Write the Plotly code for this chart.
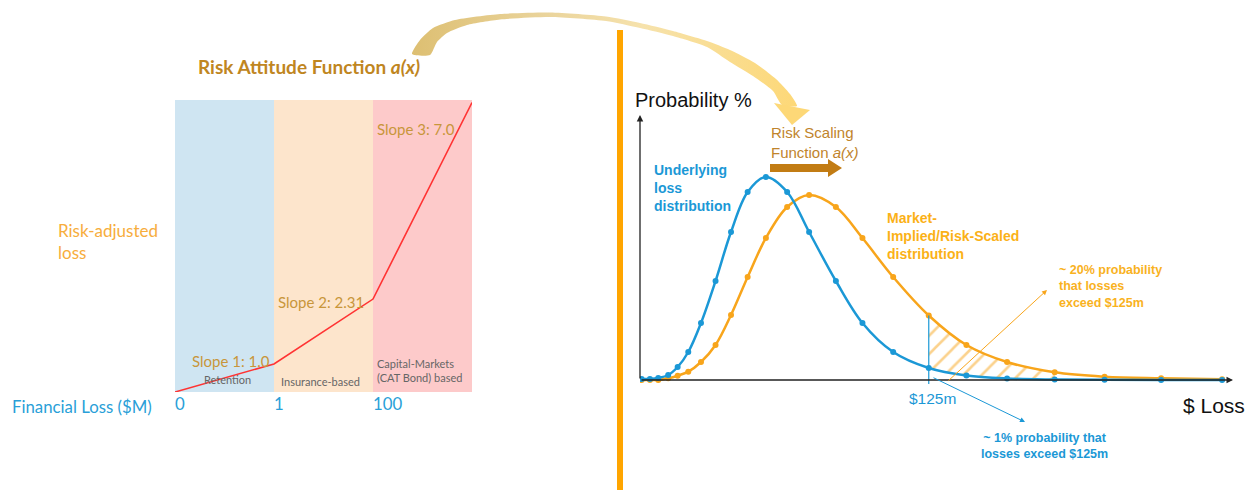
import numpy as np
import plotly.graph_objects as go

W, H = 1252, 490

# ---------------- Risk attitude function (left panel) ----------------
tier_names = ["Retention", "Insurance-based", "Capital-Markets<br>(CAT Bond) based"]
tier_ticks = ["0", "1", "100"]            # financial loss ($M) where each tier starts
tier_slopes = [1.0, 2.31, 7.0]
tier_colors = ["#cfe5f2", "#fde5cc", "#fdcaca"]

# ---------------- Loss distributions (right panel) ----------------
loss_m = [0.7, 4.3, 7.9, 12.2, 16.3, 20.9, 26.4, 32.7, 39.4, 46.6, 54.5, 63.7,
          73.2, 84.8, 96.3, 109.6, 125.0, 141.3, 158.9, 179.5, 201.1, 225.6, 252.0]
underlying_pct = [0.01, 0.01, 0.02, 0.05, 0.13, 0.28, 0.57, 0.99, 1.48, 1.88, 2.03, 1.88,
                  1.48, 0.99, 0.57, 0.28, 0.12, 0.045, 0.015, 0.005, 0.002, 0.001, 0.0]
scaled_pct = [0.0, 0.0, 0.0, 0.017, 0.043, 0.083, 0.18, 0.35, 0.65, 1.03, 1.42, 1.73,
              1.85, 1.73, 1.42, 1.03, 0.645, 0.35, 0.18, 0.077, 0.033, 0.017, 0.007]
threshold_m = 125.0
hatch_end_m = 179.5

BLUE = "#1b98d6"
ORANGE = "#f8a51b"
GOLD = "#c8963a"
SANS = "Liberation Sans, Arial, sans-serif"
CAL = "Lato, Carlito, sans-serif"


def px(x):
    return x / W


def py(y):
    return 1 - y / H


def fmt_slope(v):
    s = f"{v:.2f}".rstrip("0")
    return s + "0" if s.endswith(".") else s


fig = go.Figure()

# ---- left panel: piecewise-linear risk attitude curve ----
n_tiers = len(tier_slopes)
tier_edges = np.arange(n_tiers + 1)                 # each tier drawn with unit width
risk_adj = np.concatenate([[0.0], np.cumsum(np.array(tier_slopes) * np.diff(tier_edges))])

fig.add_trace(go.Scatter(x=tier_edges, y=risk_adj, mode="lines",
                         line=dict(color="#ff3333", width=1.6),
                         xaxis="x", yaxis="y", hoverinfo="skip"))

for i in range(n_tiers):
    fig.add_shape(type="rect", xref="x", yref="y", x0=tier_edges[i], x1=tier_edges[i + 1],
                  y0=0, y1=10.4, fillcolor=tier_colors[i], line_width=0, layer="below")

slope_pos = [(0.57, 1.1), (1.47, 3.2), (2.43, 9.37)]
for i, (sx, sy) in enumerate(slope_pos):
    fig.add_annotation(xref="x", yref="y", x=sx, y=sy, showarrow=False,
                       text=f"Slope {i + 1}: {fmt_slope(tier_slopes[i])}",
                       font=dict(family=CAL, size=15, color=GOLD))

fig.add_annotation(xref="x", yref="y", x=0.53, y=0.46, text=tier_names[0], showarrow=False,
                   font=dict(family=CAL, size=11, color="#666666"))
fig.add_annotation(xref="x", yref="y", x=1.47, y=0.39, text=tier_names[1], showarrow=False,
                   font=dict(family=CAL, size=11, color="#666666"))
fig.add_annotation(xref="x", yref="y", x=2.02, y=0.75, text=tier_names[2], showarrow=False,
                   xanchor="left", align="left",
                   font=dict(family=CAL, size=11, color="#666666"))

# ---- right panel: hatched tail between the two distributions ----
tail = [i for i, v in enumerate(loss_m) if threshold_m <= v <= hatch_end_m]
fig.add_trace(go.Scatter(x=[loss_m[i] for i in tail], y=[underlying_pct[i] for i in tail],
                         mode="lines", line=dict(width=0, shape="spline", color="rgba(0,0,0,0)"),
                         xaxis="x2", yaxis="y2", hoverinfo="skip"))
fig.add_trace(go.Scatter(x=[loss_m[i] for i in tail], y=[scaled_pct[i] for i in tail],
                         mode="lines", line=dict(width=0, shape="spline", color="rgba(0,0,0,0)"),
                         fill="tonexty", fillcolor="rgba(0,0,0,0)",
                         fillpattern=dict(shape="/", fgcolor=ORANGE, bgcolor="rgba(0,0,0,0)",
                                          size=13, solidity=0.2),
                         xaxis="x2", yaxis="y2", hoverinfo="skip"))

# ---- the two distributions ----
fig.add_trace(go.Scatter(x=loss_m, y=scaled_pct, mode="lines+markers",
                         line=dict(color=ORANGE, width=2.5, shape="spline"),
                         marker=dict(size=6, color=ORANGE),
                         xaxis="x2", yaxis="y2", hoverinfo="skip"))
fig.add_trace(go.Scatter(x=loss_m, y=underlying_pct, mode="lines+markers",
                         line=dict(color=BLUE, width=2.5, shape="spline"),
                         marker=dict(size=6, color=BLUE),
                         xaxis="x2", yaxis="y2", hoverinfo="skip"))

# threshold marker line at $125m
thr_idx = loss_m.index(threshold_m)
fig.add_shape(type="line", xref="x2", yref="y2", x0=threshold_m, x1=threshold_m,
              y0=-0.04, y1=scaled_pct[thr_idx], line=dict(color=BLUE, width=1.2))

# axes with arrowheads
fig.add_annotation(xref="x2", yref="y2", axref="x2", ayref="y2", x=0, y=2.65, ax=0, ay=0,
                   text="", showarrow=True, arrowhead=2, arrowsize=1, arrowwidth=1.3,
                   arrowcolor="#222222")
fig.add_annotation(xref="x2", yref="y2", axref="x2", ayref="y2", x=256.7, y=0, ax=0, ay=0,
                   text="", showarrow=True, arrowhead=2, arrowsize=1, arrowwidth=1.3,
                   arrowcolor="#222222")

# ---- decorative overlay in pixel space: curved arrow, scaling arrow, divider ----
outer = [(412, 54), (420, 40), (433, 28), (455, 20), (500, 14), (550, 12.5), (606, 16.5),
         (640, 23), (673, 31), (707, 41), (730, 50), (755, 63), (776, 79), (790, 94), (797, 106)]
inner = [(782, 105), (773, 91), (753, 76), (730, 62), (707, 47), (673, 36), (640, 28),
         (606, 21), (550, 17), (500, 19.5), (467, 25), (447, 33), (437, 42), (430, 55)]
body = outer + inner + [outer[0]]
fig.add_trace(go.Scatter(x=[p[0] for p in body], y=[p[1] for p in body], mode="lines",
                         line=dict(width=0, shape="spline", smoothing=0.6, color="rgba(0,0,0,0)"),
                         fill="toself",
                         fillgradient=dict(type="horizontal",
                                           colorscale=[[0, "#ddbf72"], [0.35, "#ead49c"],
                                                       [0.6, "#f6e2ac"], [1, "#fdd877"]]),
                         xaxis="x3", yaxis="y3", hoverinfo="skip"))
fig.add_shape(type="path", xref="x3", yref="y3",
              path="M 774,103 L 810,110 L 792,125 Z",
              fillcolor="#fdd877", line_width=0)

fig.add_shape(type="path", xref="x3", yref="y3",
              path="M 770,164 L 828,164 L 828,159 L 842,168 L 828,177 L 828,172 L 770,172 Z",
              fillcolor="#c27c14", line_width=0)

fig.add_shape(type="rect", xref="paper", yref="paper", x0=px(617), x1=px(623), y0=0, y1=py(30),
              fillcolor="#ffa500", line_width=0)

# ---- text ----
def label(text, x, y, size, color, family=SANS, xanchor="left", align="left"):
    fig.add_annotation(xref="paper", yref="paper", x=px(x), y=py(y), text=text,
                       showarrow=False, xanchor=xanchor, yanchor="middle", align=align,
                       font=dict(family=family, size=size, color=color))


label("<b>Risk Attitude Function <i>a(x)</i></b>", 196, 67, 19, "#c0861f", family=CAL)
label("Risk-adjusted<br>loss", 56, 241, 17, "#f7ad3c", family=CAL)
label("Financial Loss ($M)", 10, 406, 16.8, "#2a9fd8", family=CAL)

label("Probability %", 633, 100, 20, "#111111")
label("$ Loss", 1181, 405, 21, "#111111")
label("Risk Scaling<br>Function <i>a(x)</i>", 769, 143, 15, "#c0842c")
label("<b>Underlying<br>loss<br>distribution</b>", 652, 188, 14, BLUE)
label("<b>Market-<br>Implied/Risk-Scaled<br>distribution</b>", 885, 236, 14, "#fbb117")
label("$125m", 932, 398, 15.5, BLUE, xanchor="center", align="center")
label("<b>~ 1% probability that<br>losses exceed $125m</b>", 1044, 446, 12.5, BLUE,
      xanchor="center", align="center")
label("<b>~ 20% probability<br>that losses<br>exceed $125m</b>", 1057, 286, 12.5, "#f9b21e")

# callout arrows
fig.add_annotation(xref="paper", yref="paper", x=px(1025), y=py(422), ax=-93, ay=-45,
                   text="", showarrow=True, arrowhead=2, arrowsize=1, arrowwidth=1,
                   arrowcolor=BLUE)
fig.add_annotation(xref="paper", yref="paper", x=px(1047), y=py(290), ax=-100, ay=92,
                   text="", showarrow=True, arrowhead=2, arrowsize=1, arrowwidth=1,
                   arrowcolor=ORANGE)

fig.update_layout(
    width=W, height=H, autosize=False,
    margin=dict(l=0, r=0, t=0, b=0),
    paper_bgcolor="white", plot_bgcolor="rgba(0,0,0,0)",
    showlegend=False, hovermode=False,
    xaxis=dict(domain=[px(175), px(472)], range=[0, n_tiers], tickvals=list(tier_edges[:n_tiers]),
               ticktext=tier_ticks, ticklabelposition="outside right", ticks="",
               showgrid=False, zeroline=False, showline=False,
               tickfont=dict(family=CAL, size=16.8, color="#2a9fd8"), anchor="y"),
    yaxis=dict(domain=[py(392), py(100)], range=[0, 10.4], visible=False, anchor="x"),
    xaxis2=dict(domain=[px(640), px(1236)], range=[0, 258], visible=False, anchor="y2"),
    yaxis2=dict(domain=[py(392), py(110)], range=[-0.12, 2.70], visible=False, anchor="x2"),
    xaxis3=dict(domain=[0, 1], range=[0, W], visible=False, anchor="y3"),
    yaxis3=dict(domain=[0, 1], range=[H, 0], visible=False, anchor="x3"),
)

fig.write_html("out.html")
